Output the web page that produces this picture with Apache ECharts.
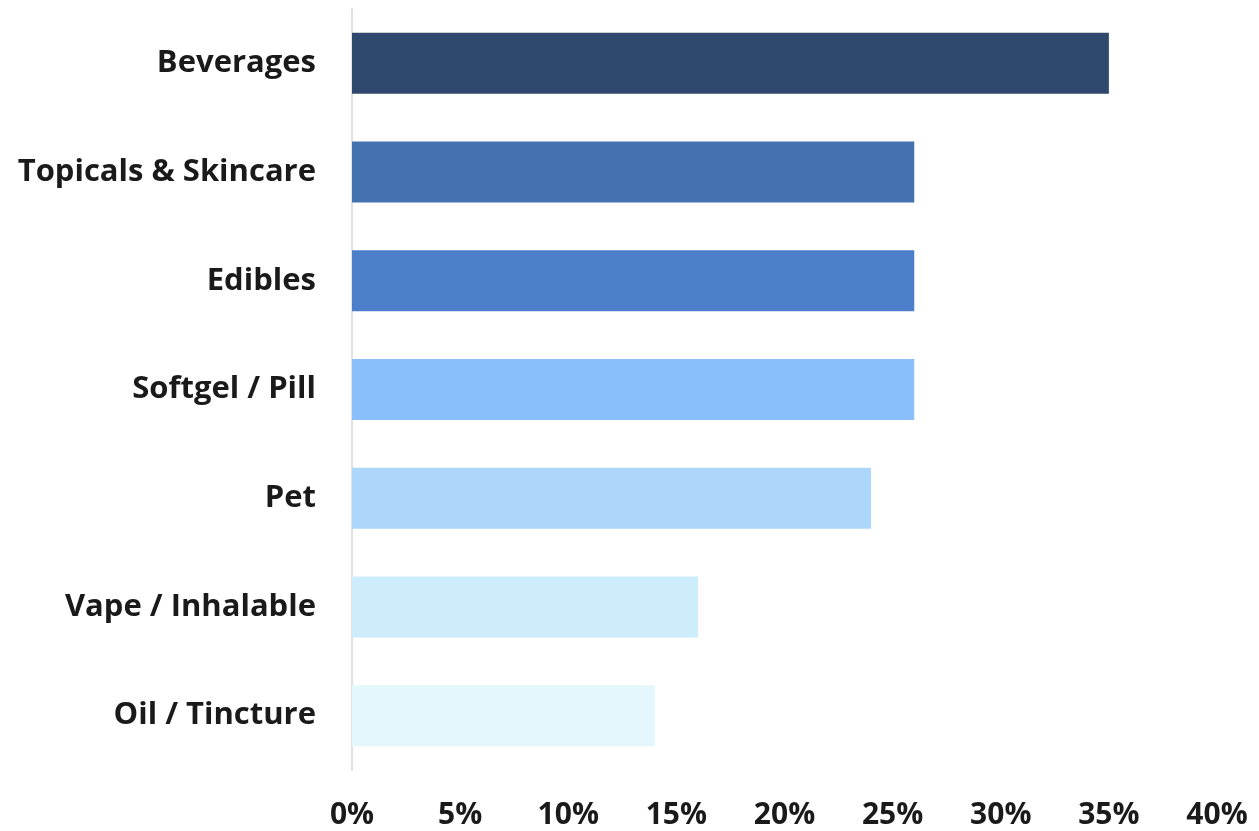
<!DOCTYPE html>
<html>
<head>
<meta charset="utf-8">
<script src="https://cdn.jsdelivr.net/npm/echarts@6/dist/echarts.min.js"></script>
<style>
html,body{margin:0;padding:0;background:#fff;}
#chart{width:1259px;height:831px;}
</style>
</head>
<body>
<div id="chart"></div>
<script>
// Categories listed bottom to top
const categories = ["Oil / Tincture", "Vape / Inhalable", "Pet", "Softgel / Pill", "Edibles", "Topicals & Skincare", "Beverages"];
const values = [14, 16, 24, 26, 26, 26, 35];
const barColors = ["#E3F7FD", "#CDEDFD", "#ADD6FB", "#8BBFFC", "#4D7ECA", "#4472AE", "#2E486E"];
const tickLabels = ["0%", "5%", "10%", "15%", "20%", "25%", "30%", "35%", "40%"];

const chart = echarts.init(document.getElementById('chart'));
chart.setOption({
  animation: false,
  grid: { left: 352, right: 42, top: 9, bottom: 61, containLabel: false },
  xAxis: {
    type: 'value',
    min: 0, max: 40, interval: 5,
    axisLine: { show: false },
    axisTick: { show: false },
    splitLine: { show: false },
    axisLabel: {
      margin: 30,
      fontSize: 30,
      fontWeight: 'bold',
      fontFamily: '"Open Sans", Lato, sans-serif',
      color: '#1a1a1a',
      formatter: function (v) { return tickLabels[Math.round(v / 5)]; }
    }
  },
  yAxis: {
    type: 'category',
    data: categories,
    axisLine: { show: true, lineStyle: { color: '#e0e0e0', width: 2 } },
    axisTick: { show: false },
    axisLabel: {
      margin: 36,
      fontSize: 31,
      fontWeight: 'bold',
      fontFamily: '"Open Sans", Lato, sans-serif',
      color: '#1a1a1a'
    }
  },
  series: [{
    type: 'bar',
    barWidth: 61,
    data: values.map((v, i) => ({ value: v, itemStyle: { color: barColors[i] } }))
  }]
});
</script>
</body>
</html>
